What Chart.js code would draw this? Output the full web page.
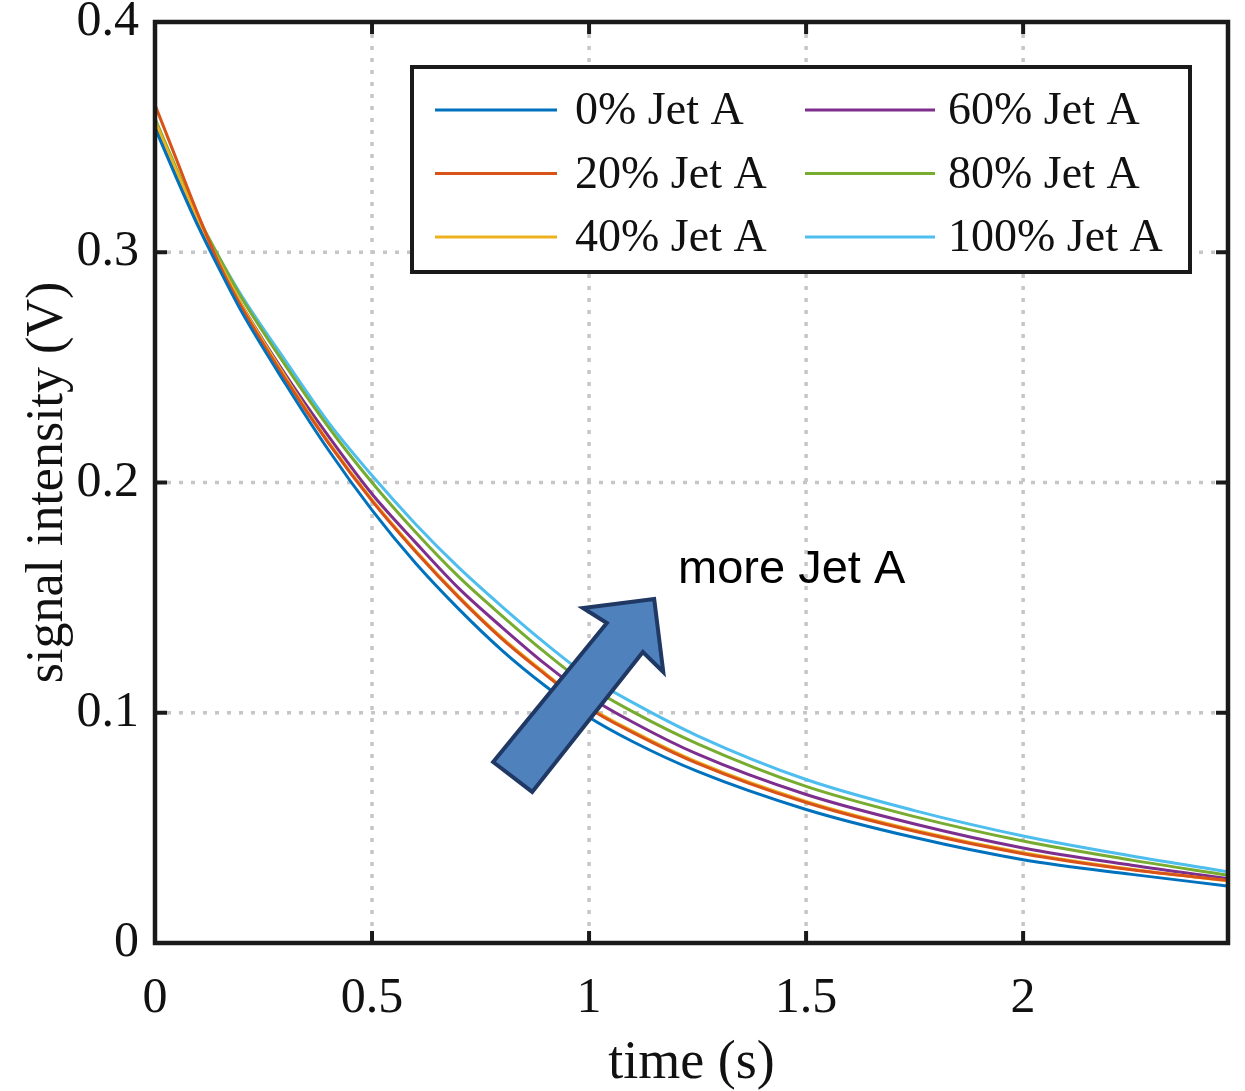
<!DOCTYPE html>
<html>
<head>
<meta charset="utf-8">
<title>Signal decay vs Jet A fraction</title>
<script src="https://cdn.jsdelivr.net/npm/chart.js@4.4.1/dist/chart.umd.min.js"></script>
<style>
    html, body { margin: 0; padding: 0; background: #fff; }
    #wrap { width: 1245px; height: 1091px; position: relative; }
</style>
</head>
<body>
<div id="wrap"><canvas id="decay-chart"></canvas></div>
<script>
/* ---------- Data ---------- */

const timeS = [0, 0.05, 0.1, 0.15, 0.2, 0.3, 0.4, 0.5, 0.6, 0.7, 0.8, 0.9, 1.0, 1.1, 1.25, 1.5, 1.75, 2.0, 2.25, 2.47];

const jet0   = [0.354, 0.332, 0.311, 0.292, 0.274, 0.243, 0.214, 0.188, 0.165, 0.145, 0.127, 0.1115, 0.098, 0.0875, 0.0745, 0.058, 0.0458, 0.0362, 0.0298, 0.0248];
const jet20  = [0.364, 0.340, 0.316, 0.294, 0.276, 0.245, 0.217, 0.192, 0.170, 0.150, 0.132, 0.1165, 0.102, 0.0915, 0.078, 0.061, 0.0485, 0.0388, 0.0318, 0.0272];
const jet40  = [0.357, 0.335, 0.314, 0.295, 0.277, 0.246, 0.2175, 0.1925, 0.1705, 0.1505, 0.1325, 0.117, 0.1025, 0.092, 0.0785, 0.0615, 0.049, 0.0392, 0.032, 0.027];
const jet60  = [0.356, 0.334, 0.313, 0.294, 0.277, 0.247, 0.220, 0.195, 0.174, 0.154, 0.137, 0.121, 0.107, 0.096, 0.082, 0.0645, 0.0517, 0.0413, 0.0338, 0.028];
const jet80  = [0.358, 0.336, 0.315, 0.297, 0.280, 0.251, 0.224, 0.200, 0.1785, 0.159, 0.142, 0.126, 0.1115, 0.1005, 0.0865, 0.068, 0.0549, 0.0443, 0.036, 0.0295];
const jet100 = [0.355, 0.334, 0.314, 0.297, 0.281, 0.253, 0.226, 0.203, 0.182, 0.163, 0.146, 0.130, 0.1155, 0.1045, 0.090, 0.071, 0.0575, 0.0465, 0.0378, 0.031];

const seriesLabels = ['0% Jet A', '20% Jet A', '40% Jet A', '60% Jet A', '80% Jet A', '100% Jet A'];
const seriesValues = [jet0, jet20, jet40, jet60, jet80, jet100];

const xTicks = [0, 0.5, 1, 1.5, 2];
const yTicks = [0, 0.1, 0.2, 0.3, 0.4];
const xMax = 2.472;

/* ---------- Styling ---------- */

const SERIF = '"Liberation Serif", "Times New Roman", serif';
const SANS = '"Liberation Sans", Arial, sans-serif';
const lineColors = ['#0072BD', '#D95319', '#EDB120', '#7E2F8E', '#77AC30', '#4DBEEE'];

// block arrow outline, in data units (time, volts)
const arrowShape = [
    [0.779, 0.0786], [1.041, 0.139], [0.986, 0.1455], [1.150, 0.1494],
    [1.171, 0.1177], [1.124, 0.1264], [0.869, 0.0656],
];
const arrowNote = { text: 'more Jet A', x: 1.205, y: 0.162 };

/* ---------- Plugin: grid, frame, ticks, legend, arrow ---------- */

function strokeLine(ctx, x0, y0, x1, y1) {
    ctx.beginPath();
    ctx.moveTo(x0, y0);
    ctx.lineTo(x1, y1);
    ctx.stroke();
}

const matlabAxes = {
    id: 'matlabAxes',

    beforeDatasetsDraw(chart) {
        const { ctx, chartArea: a, scales: { x, y } } = chart;
        ctx.save();
        ctx.strokeStyle = '#c6c6c6';
        ctx.lineWidth = 3.5;
        ctx.setLineDash([4, 8]);
        xTicks.slice(1).forEach(v => {
            const px = x.getPixelForValue(v);
            strokeLine(ctx, px, a.top, px, a.bottom);
        });
        yTicks.slice(1, -1).forEach(v => {
            const py = y.getPixelForValue(v);
            strokeLine(ctx, a.left, py, a.right, py);
        });
        ctx.restore();
    },

    afterDraw(chart) {
        const { ctx, chartArea: a, scales: { x, y } } = chart;
        ctx.save();

        // arrow + note
        ctx.beginPath();
        arrowShape.forEach(([t, v], i) => {
            const px = x.getPixelForValue(t);
            const py = y.getPixelForValue(v);
            if (i === 0) ctx.moveTo(px, py); else ctx.lineTo(px, py);
        });
        ctx.closePath();
        ctx.fillStyle = '#4F81BD';
        ctx.fill();
        ctx.lineWidth = 4;
        ctx.lineJoin = 'miter';
        ctx.strokeStyle = '#1F3864';
        ctx.stroke();

        ctx.fillStyle = '#000';
        ctx.font = `47px ${SANS}`;
        ctx.textBaseline = 'middle';
        ctx.textAlign = 'left';
        ctx.fillText(arrowNote.text, x.getPixelForValue(arrowNote.x), y.getPixelForValue(arrowNote.y));

        // legend box
        const box = { left: 412, top: 67, width: 778, height: 205 };
        ctx.fillStyle = '#fff';
        ctx.fillRect(box.left, box.top, box.width, box.height);
        ctx.lineWidth = 4;
        ctx.strokeStyle = '#1a1a1a';
        ctx.strokeRect(box.left, box.top, box.width, box.height);

        const cols = [
            { x0: 435, x1: 557, text: 575 },
            { x0: 805, x1: 935, text: 948 },
        ];
        ctx.font = `46px ${SERIF}`;
        ctx.textBaseline = 'middle';
        seriesLabels.forEach((label, i) => {
            const c = cols[Math.floor(i / 3)];
            const rowY = 110 + (i % 3) * 63.5;
            ctx.strokeStyle = lineColors[i];
            ctx.lineWidth = 3;
            strokeLine(ctx, c.x0, rowY, c.x1, rowY);
            ctx.fillStyle = '#111';
            ctx.fillText(label, c.text, rowY + 2);
        });

        // inward ticks on all four sides
        const tickLen = 12;
        ctx.strokeStyle = '#1a1a1a';
        ctx.lineWidth = 4;
        xTicks.slice(1).forEach(v => {
            const px = x.getPixelForValue(v);
            strokeLine(ctx, px, a.bottom, px, a.bottom - tickLen);
            strokeLine(ctx, px, a.top, px, a.top + tickLen);
        });
        yTicks.slice(1, -1).forEach(v => {
            const py = y.getPixelForValue(v);
            strokeLine(ctx, a.left, py, a.left + tickLen, py);
            strokeLine(ctx, a.right, py, a.right - tickLen, py);
        });

        // axes box
        ctx.lineWidth = 4.5;
        ctx.strokeRect(a.left, a.top, a.right - a.left, a.bottom - a.top);
        ctx.restore();
    },
};

/* ---------- Chart ---------- */

const datasets = seriesValues.map((values, i) => ({
    label: seriesLabels[i],
    data: values.map((v, k) => ({ x: timeS[k], y: v })),
    borderColor: lineColors[i],
    borderWidth: 3,
    pointRadius: 0,
    fill: false,
    cubicInterpolationMode: 'monotone',
}));

const tickFont = { family: SERIF, size: 50 };

new Chart(document.getElementById('decay-chart'), {
    type: 'line',
    data: { datasets },
    options: {
        responsive: true,
        maintainAspectRatio: false,
        animation: false,
        layout: { padding: { top: 22, right: 17, left: 0, bottom: 0 } },
        plugins: {
            legend: { display: false },
            tooltip: { enabled: false },
        },
        scales: {
            x: {
                type: 'linear',
                min: 0,
                max: xMax,
                grid: { display: false },
                border: { display: false },
                afterBuildTicks: scale => { scale.ticks = xTicks.map(v => ({ value: v })); },
                afterFit: scale => {
                    scale.height = 148;
                    scale.paddingLeft = 0;
                    scale.paddingRight = 0;
                },
                ticks: {
                    font: tickFont,
                    color: '#111',
                    padding: 18,
                    maxRotation: 0,
                    callback: v => String(v),
                },
                title: {
                    display: true,
                    text: 'time (s)',
                    font: { family: SERIF, size: 54, lineHeight: 1 },
                    color: '#111',
                    padding: { top: 1, bottom: 0 },
                },
            },
            y: {
                type: 'linear',
                min: 0,
                max: 0.4,
                grid: { display: false },
                border: { display: false },
                afterBuildTicks: scale => { scale.ticks = yTicks.map(v => ({ value: v })); },
                afterFit: scale => {
                    scale.width = 155;
                    scale.paddingTop = 0;
                    scale.paddingBottom = 0;
                },
                ticks: {
                    font: tickFont,
                    color: '#111',
                    padding: 8,
                    callback: v => (v === 0 ? '0' : v.toFixed(1)),
                },
                title: {
                    display: true,
                    text: 'signal intensity (V)',
                    font: { family: SERIF, size: 52 },
                    color: '#111',
                    padding: { top: 17, bottom: 0 },
                },
            },
        },
    },
    plugins: [matlabAxes],
});
</script>
</body>
</html>
